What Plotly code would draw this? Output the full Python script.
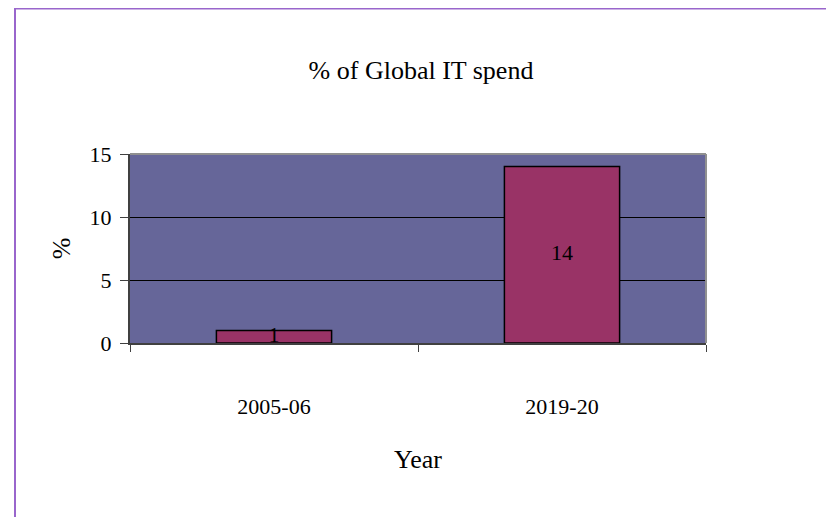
import plotly.graph_objects as go

# data
years = ['2005-06', '2019-20']
share = [1, 14]
labels = ['1', '14']

OFF = 8  # page body margin
W, H = 834 - OFF, 517 - OFF
L, R, T, B = 130 - OFF, 706 - OFF, 154 - OFF, 343 - OFF  # plot area in pixels
FONT = 'Liberation Serif'

fig = go.Figure()
fig.add_trace(go.Bar(x=years, y=share, width=0.4,
                     marker=dict(color='#993366', line=dict(color='black', width=1.5)),
                     hoverinfo='skip'))
# value labels centred in the bars
fig.add_trace(go.Scatter(x=years, y=[v / 2 for v in share], text=labels, mode='text',
                         textposition='middle center',
                         textfont=dict(color='black', size=22, family=FONT),
                         hoverinfo='skip'))

def px_x(p):
    return (p - OFF - L) / (R - L)

def px_y(p):
    return (B - (p - OFF)) / (B - T)

# outer purple frame + grey plot border (top/right)
fig.add_shape(type='rect', xref='paper', yref='paper',
              x0=px_x(15), x1=px_x(833), y0=px_y(560), y1=px_y(8.5),
              line=dict(color='#9966cc', width=2), layer='below')
fig.add_shape(type='line', xref='paper', yref='paper', x0=0, x1=1, y0=1, y1=1,
              line=dict(color='#909090', width=2))
fig.add_shape(type='line', xref='paper', yref='paper', x0=1, x1=1, y0=0, y1=1,
              line=dict(color='#909090', width=2))

fig.update_layout(
    width=W, height=H,
    margin=dict(l=L, r=W - R, t=T, b=H - B, autoexpand=False),
    paper_bgcolor='white', plot_bgcolor='#666699',
    font=dict(family=FONT, size=22, color='black'),
    showlegend=False,
    title=dict(text='% of Global IT spend', x=0.5, xanchor='center',
               y=1 - (70 - OFF) / H, yanchor='middle', font=dict(size=26, family=FONT)),
)
fig.update_xaxes(type='category', showgrid=False, showline=True, linecolor='#404040', linewidth=2,
                 ticks='outside', tickson='boundaries', ticklen=7, tickcolor='#404040', tickwidth=1,
                 ticklabelstandoff=43, automargin=False,
                 title=dict(text='Year', standoff=31))
fig.update_yaxes(range=[0, 15], dtick=5, showgrid=True, gridcolor='black', gridwidth=1,
                 showline=True, linecolor='#404040', linewidth=2, zeroline=False,
                 ticks='outside', ticklen=8, tickcolor='#404040', automargin=False,
                 ticklabelstandoff=4,
                 title=dict(text='%', standoff=11))

fig.write_html('out.html')
